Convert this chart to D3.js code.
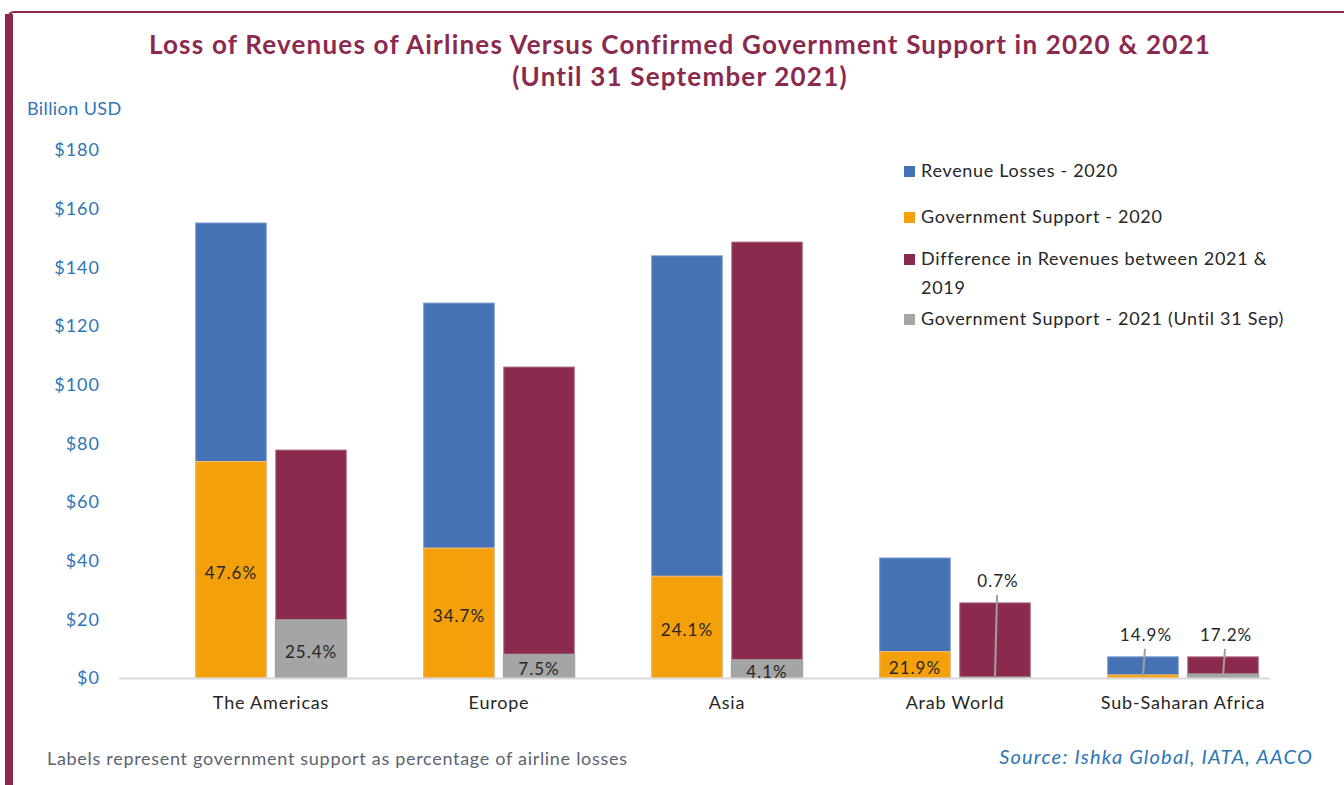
<!DOCTYPE html>
<html>
<head>
<meta charset="utf-8">
<script src="https://cdn.jsdelivr.net/npm/d3@7"></script>
<style>
  html, body { margin: 0; padding: 0; background: #fff; }
  svg { display: block; font-family: Lato, "Open Sans", sans-serif; }
</style>
</head>
<body>
<svg id="chart" width="1344" height="785"></svg>
<script>
// Regions shown on the x axis
const categories = ["The Americas", "Europe", "Asia", "Arab World", "Sub-Saharan Africa"];

// Billion USD
const revenueLosses2020 = [155.1, 127.8, 143.9, 40.9, 7.2];
const govSupport2020 = [73.8, 44.3, 34.7, 9.0, 1.07];
const revenueDiff2021vs2019 = [77.7, 106.0, 148.6, 25.6, 7.2];
const govSupport2021 = [19.7, 7.95, 6.1, 0.18, 1.24];

// Support as a share of losses, shown on the bars
const pctLabels2020 = ["47.6%", "34.7%", "24.1%", "21.9%", "14.9%"];
const pctLabels2021 = ["25.4%", "7.5%", "4.1%", "0.7%", "17.2%"];

const yTicks = [0, 20, 40, 60, 80, 100, 120, 140, 160, 180];

const legendItems = [
  { key: "loss", lines: ["Revenue Losses - 2020"] },
  { key: "sup20", lines: ["Government Support - 2020"] },
  { key: "diff", lines: ["Difference in Revenues between 2021 &", "2019"] },
  { key: "sup21", lines: ["Government Support - 2021 (Until 31 Sep)"] }
];

const colors = {
  loss: "#4472b4",
  sup20: "#f4a00a",
  diff: "#8b2a4e",
  sup21: "#a5a5a5"
};
const maroon = "#8b2a4e";
const axisBlue = "#2e75b6";
const textDark = "#262626";

const svg = d3.select("#chart");
const W = 1344, H = 785;

// Frame: thick maroon left edge and thin top rule
svg.append("path")
  .attr("d", "M9,785 L9,17 Q9,12 14,12 L1344,12")
  .attr("fill", "none").attr("stroke", maroon).attr("stroke-width", 2);
svg.append("rect").attr("x", 5).attr("y", 14).attr("width", 8).attr("height", H - 14)
  .attr("fill", maroon);

// Title
const title = svg.append("text")
  .attr("text-anchor", "middle")
  .attr("fill", maroon)
  .attr("font-weight", "bold")
  .attr("font-size", 26)
  .attr("letter-spacing", 1.2);
title.append("tspan").attr("x", 680).attr("y", 54)
  .text("Loss of Revenues of Airlines Versus Confirmed Government Support in 2020 & 2021");
title.append("tspan").attr("x", 680).attr("y", 86)
  .text("(Until 31 September 2021)");

// Scales
const y = d3.scaleLinear().domain([0, 180]).range([678, 150]);
const x0 = d3.scaleBand().domain(categories).range([157, 1297]).paddingInner(0.34).paddingOuter(0.17);
const x1 = d3.scaleBand().domain(["a", "b"]).range([0, x0.bandwidth()]).paddingInner(0.12);

// Y axis unit label
svg.append("text").attr("x", 27).attr("y", 115)
  .attr("fill", axisBlue).attr("font-size", 18).attr("letter-spacing", 0.4).text("Billion USD");

// Y axis (labels only)
const yAxis = d3.axisLeft(y).tickValues(yTicks).tickFormat(d => "$" + d).tickSize(0).tickPadding(0);
const yg = svg.append("g").attr("transform", "translate(100,0)").call(yAxis);
yg.select(".domain").remove();
yg.selectAll("text").attr("fill", axisBlue).attr("font-size", 18).attr("letter-spacing", 1)
  .attr("font-family", "Lato, 'Open Sans', sans-serif");

const rows = categories.map((c, i) => ({
  cat: c,
  loss: revenueLosses2020[i],
  sup20: govSupport2020[i],
  diff: revenueDiff2021vs2019[i],
  sup21: govSupport2021[i],
  l20: pctLabels2020[i],
  l21: pctLabels2021[i]
}));

const barsG = svg.append("g");

function bar(g, xPos, value, color, strokeColor, strokeW) {
  g.append("rect")
    .attr("x", xPos).attr("width", x1.bandwidth())
    .attr("y", y(value)).attr("height", y(0) - y(value))
    .attr("fill", color)
    .attr("stroke", strokeColor).attr("stroke-width", strokeW);
}

rows.forEach(r => {
  const g = barsG.append("g").attr("transform", `translate(${x0(r.cat)},0)`);
  const xa = x1("a"), xb = x1("b");
  // 2020: losses with support overlaid from the base
  bar(g, xa, r.loss, colors.loss, "#6f93cc", 1);
  bar(g, xa, r.sup20, colors.sup20, "#f2c27a", 1);
  // 2021: revenue gap with support overlaid from the base
  bar(g, xb, r.diff, colors.diff, "#a8677f", 1);
  bar(g, xb, r.sup21, colors.sup21, colors.sup21, 2);
});

// Baseline
svg.append("line").attr("x1", 119).attr("x2", 1270).attr("y1", y(0) + 0.5).attr("y2", y(0) + 0.5)
  .attr("stroke", "#d9d9d9").attr("stroke-width", 2);

// Category labels
const xAxis = d3.axisBottom(x0).tickSize(0).tickPadding(0);
const xg = svg.append("g").attr("transform", `translate(0,${y(0) + 25})`).call(xAxis);
xg.select(".domain").remove();
xg.selectAll("text").attr("fill", textDark).attr("font-size", 18).attr("letter-spacing", 0.8)
  .attr("font-family", "Lato, 'Open Sans', sans-serif")
  .attr("dy", "0.32em");

// Percentage labels: inside the segment when it is tall enough, otherwise above the bar with a leader
const labelsG = svg.append("g").attr("font-size", 17).attr("letter-spacing", 1)
  .attr("fill", textDark).attr("text-anchor", "middle");
function pctLabel(cx, segValue, topValue, text) {
  const segH = y(0) - y(segValue);
  if (segH >= 14) {
    labelsG.append("text").attr("x", cx).attr("y", (y(segValue) + y(0)) / 2 + 3).attr("dy", "0.35em").text(text);
  } else {
    const ly = y(topValue) - 22;
    labelsG.append("text").attr("x", cx + 3).attr("y", ly).attr("dy", "0.35em").text(text);
    labelsG.append("line")
      .attr("x1", cx + 2).attr("y1", ly + 14)
      .attr("x2", cx).attr("y2", y(0) - 2)
      .attr("stroke", "#a0a0a0").attr("stroke-width", 2);
  }
}
rows.forEach(r => {
  const base = x0(r.cat);
  const ca = base + x1("a") + x1.bandwidth() / 2;
  const cb = base + x1("b") + x1.bandwidth() / 2;
  pctLabel(ca, r.sup20, r.loss, r.l20);
  pctLabel(cb, r.sup21, r.diff, r.l21);
});

// Legend
const legend = svg.append("g").attr("font-size", 18).attr("letter-spacing", 0.7).attr("fill", textDark);
const legendRowY = [171, 217, 259, 319];
legendItems.forEach((item, i) => {
  const ly = legendRowY[i];
  legend.append("rect").attr("x", 904).attr("y", ly - 5).attr("width", 11).attr("height", 11)
    .attr("fill", colors[item.key]);
  item.lines.forEach((ln, j) => {
    legend.append("text").attr("x", 921).attr("y", ly + j * 29).attr("dy", "0.35em").text(ln);
  });
});

// Footer notes
svg.append("text").attr("x", 47).attr("y", 765)
  .attr("fill", "#5a6472").attr("font-size", 18).attr("letter-spacing", 0.7)
  .text("Labels represent government support as percentage of airline losses");
svg.append("text").attr("x", 1313).attr("y", 764).attr("text-anchor", "end")
  .attr("fill", axisBlue).attr("font-size", 20).attr("letter-spacing", 1.2).attr("font-style", "italic")
  .text("Source: Ishka Global, IATA, AACO");
</script>
</body>
</html>
